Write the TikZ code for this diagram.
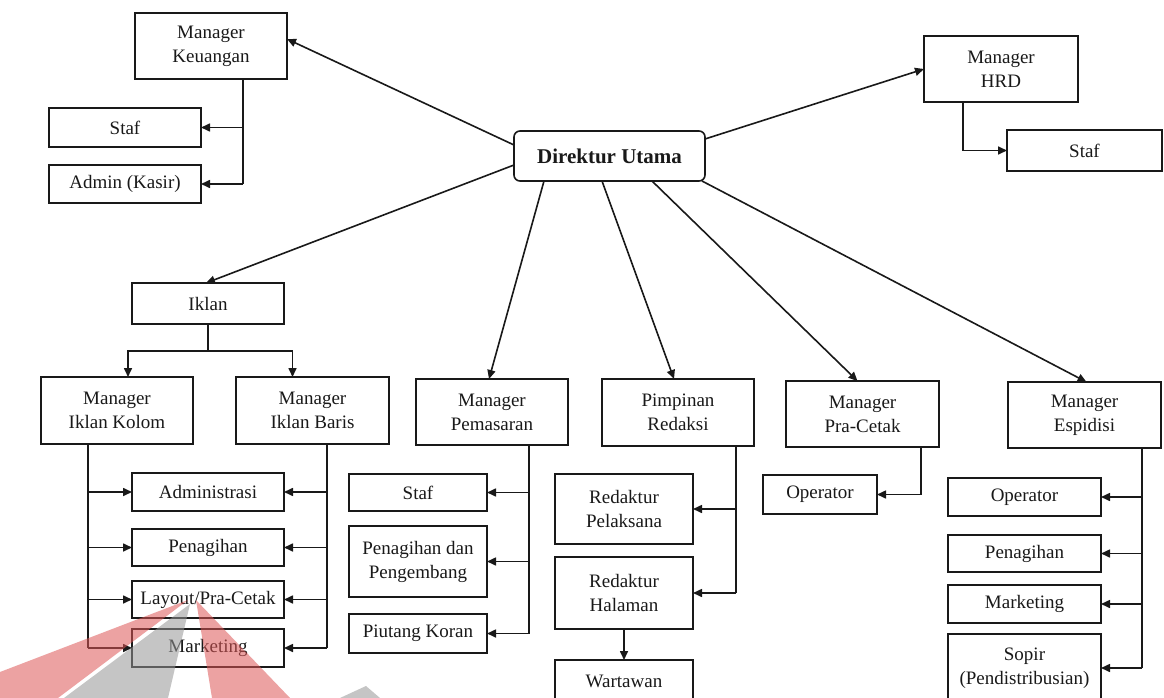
\documentclass[tikz,border=0pt]{standalone}
\usepackage{fontspec}
\setmainfont{Liberation Serif}
\usetikzlibrary{arrows.meta}
\definecolor{ink}{RGB}{25,25,25}
\definecolor{wmred}{RGB}{222,86,86}
\definecolor{wmgrey}{RGB}{150,150,150}
\begin{document}
\begin{tikzpicture}[x=1pt,y=-1pt,
  box/.style={draw=ink, line width=1.6pt, fill=white, align=center, inner sep=0pt, outer sep=0pt,
    font=\fontsize{19}{24}\selectfont, text=ink},
  rbox/.style={box, rounded corners=6pt, font=\fontsize{21}{25}\selectfont\bfseries},
  link/.style={draw=ink, line width=1.6pt},
  arr/.style={link, -{Triangle[length=9pt,width=8pt]}}]
\useasboundingbox (0,0) rectangle (1164,698);
\clip (0,0) rectangle (1164,698);
\fill[white] (0,0) rectangle (1164,698);

% nodes
\node[rbox, minimum width=191pt, minimum height=50pt] (dir) at (609.5,156) {Direktur Utama};
\node[box, minimum width=152pt, minimum height=66pt] (mk) at (211,46) {Manager\\Keuangan};
\node[box, minimum width=152pt, minimum height=39pt] (kstaf) at (125,127.5) {Staf};
\node[box, minimum width=152pt, minimum height=38pt] (kadmin) at (125,184) {Admin (Kasir)};
\node[box, minimum width=154pt, minimum height=66pt] (hrd) at (1001,69) {Manager\\HRD};
\node[box, minimum width=155pt, minimum height=41pt] (hstaf) at (1084.5,150.5) {Staf};
\node[box, minimum width=152pt, minimum height=41pt] (iklan) at (208,303.5) {Iklan};
\node[box, minimum width=152pt, minimum height=67pt] (mik) at (117,410.5) {Manager\\Iklan Kolom};
\node[box, minimum width=153pt, minimum height=67pt] (mib) at (312.5,410.5) {Manager\\Iklan Baris};
\node[box, minimum width=152pt, minimum height=38pt] (adm) at (208,492) {Administrasi};
\node[box, minimum width=152pt, minimum height=37pt] (pen) at (208,547.5) {Penagihan};
\node[box, minimum width=152pt, minimum height=37pt] (lay) at (208,599.5) {Layout/Pra-Cetak};
\node[box, minimum width=152pt, minimum height=38pt] (mkt) at (208,648) {Marketing};
\node[box, minimum width=152pt, minimum height=66pt] (mp) at (492,412) {Manager\\Pemasaran};
\node[box, minimum width=138pt, minimum height=37pt] (pstaf) at (418,492.5) {Staf};
\node[box, minimum width=138pt, minimum height=71pt] (ppd) at (418,561.5) {Penagihan dan\\Pengembang};
\node[box, minimum width=138pt, minimum height=39pt] (ppk) at (418,633.5) {Piutang Koran};
\node[box, minimum width=152pt, minimum height=67pt] (pr) at (678,412.5) {Pimpinan\\Redaksi};
\node[box, minimum width=138pt, minimum height=70pt] (rp) at (624,509) {Redaktur\\Pelaksana};
\node[box, minimum width=138pt, minimum height=72pt] (rh) at (624,593) {Redaktur\\Halaman};
\node[box, minimum width=138pt, minimum height=42pt] (war) at (624,681) {Wartawan};
\node[box, minimum width=153pt, minimum height=66pt] (mpc) at (862.5,414) {Manager\\Pra-Cetak};
\node[box, minimum width=114pt, minimum height=39pt] (pop) at (820,494.5) {Operator};
\node[box, minimum width=153pt, minimum height=66pt] (me) at (1084.5,415) {Manager\\Espidisi};
\node[box, minimum width=153pt, minimum height=38pt] (eop) at (1024.5,497) {Operator};
\node[box, minimum width=153pt, minimum height=37pt] (epen) at (1024.5,553.5) {Penagihan};
\node[box, minimum width=153pt, minimum height=38pt] (emkt) at (1024.5,604) {Marketing};
\node[box, minimum width=153pt, minimum height=68pt] (sopir) at (1024.5,668) {Sopir\\(Pendistribusian)};

% from Direktur Utama
\draw[arr] ([yshift=-14pt]dir.north west) -- ([yshift=-26pt]mk.north east);
\draw[arr] ([yshift=16pt]dir.south west) -- ([xshift=-2pt]iklan.north);
\draw[arr] ([yshift=-8pt]dir.north east) -- (hrd.west);
\draw[arr] ([xshift=30pt]dir.south west) -- ([xshift=-3pt]mp.north);
\draw[arr] ([xshift=88pt]dir.south west) -- ([xshift=-4pt]pr.north);
\draw[arr] ([xshift=138pt]dir.south west) -- ([xshift=-5pt]mpc.north);
\draw[arr] ([xshift=-3pt]dir.south east) -- ([xshift=2pt]me.north);

% Keuangan
\coordinate (kk) at ([xshift=-44pt]mk.south east);
\draw[link] (kk) -- (kk |- kadmin.east);
\draw[arr] (kk |- kstaf.east) -- (kstaf.east);
\draw[arr] (kk |- kadmin.east) -- (kadmin.east);

% HRD
\coordinate (hh) at ([xshift=39pt]hrd.south west);
\draw[arr] (hh) |- (hstaf.west);

% Iklan
\coordinate (ik) at ([yshift=-27pt]iklan.south);
\coordinate (ikl) at ([xshift=11pt]mik.north);
\coordinate (ikr) at ([xshift=-20pt]mib.north);
\draw[link] (iklan.south) -- (ik);
\draw[arr] (ik) -| (ikl);
\draw[arr] (ik) -| (ikr);

% Iklan Kolom / Baris
\coordinate (kl) at ([xshift=47pt]mik.south west);
\coordinate (bl) at ([xshift=91pt]mib.south west);
\draw[link] (kl) -- (kl |- mkt.west);
\draw[link] (bl) -- (bl |- mkt.east);
\foreach \n in {adm,pen,lay,mkt}{
  \draw[arr] (kl |- \n.west) -- (\n.west);
  \draw[arr] (bl |- \n.east) -- (\n.east);
}

% Pemasaran
\coordinate (pm) at ([xshift=-39pt]mp.south east);
\draw[link] (pm) -- (pm |- ppk.east);
\foreach \n in {pstaf,ppd,ppk}{ \draw[arr] (pm |- \n.east) -- (\n.east); }

% Redaksi
\coordinate (rd) at ([xshift=-18pt]pr.south east);
\draw[link] (rd) -- (rd |- rh.east);
\foreach \n in {rp,rh}{ \draw[arr] (rd |- \n.east) -- (\n.east); }
\draw[arr] (rh.south) -- (war.north);

% Pra-Cetak
\coordinate (pc) at ([xshift=-18pt]mpc.south east);
\draw[arr] (pc) |- (pop.east);

% Espidisi
\coordinate (es) at ([xshift=-19pt]me.south east);
\draw[link] (es) -- (es |- sopir.east);
\foreach \n in {eop,epen,emkt,sopir}{ \draw[arr] (es |- \n.east) -- (\n.east); }

% watermark
\begin{scope}[fill opacity=0.55]
\fill[wmred] (0,698) -- (0,672) -- (188,600) -- (58,698) -- cycle;
\fill[wmgrey] (64,698) -- (190,604) -- (168,698) -- cycle;
\fill[wmred] (196,600) -- (290,698) -- (212,698) -- cycle;
\fill[wmgrey] (340,698) -- (366,686) -- (380,698) -- cycle;
\end{scope}
\end{tikzpicture}
\end{document}
